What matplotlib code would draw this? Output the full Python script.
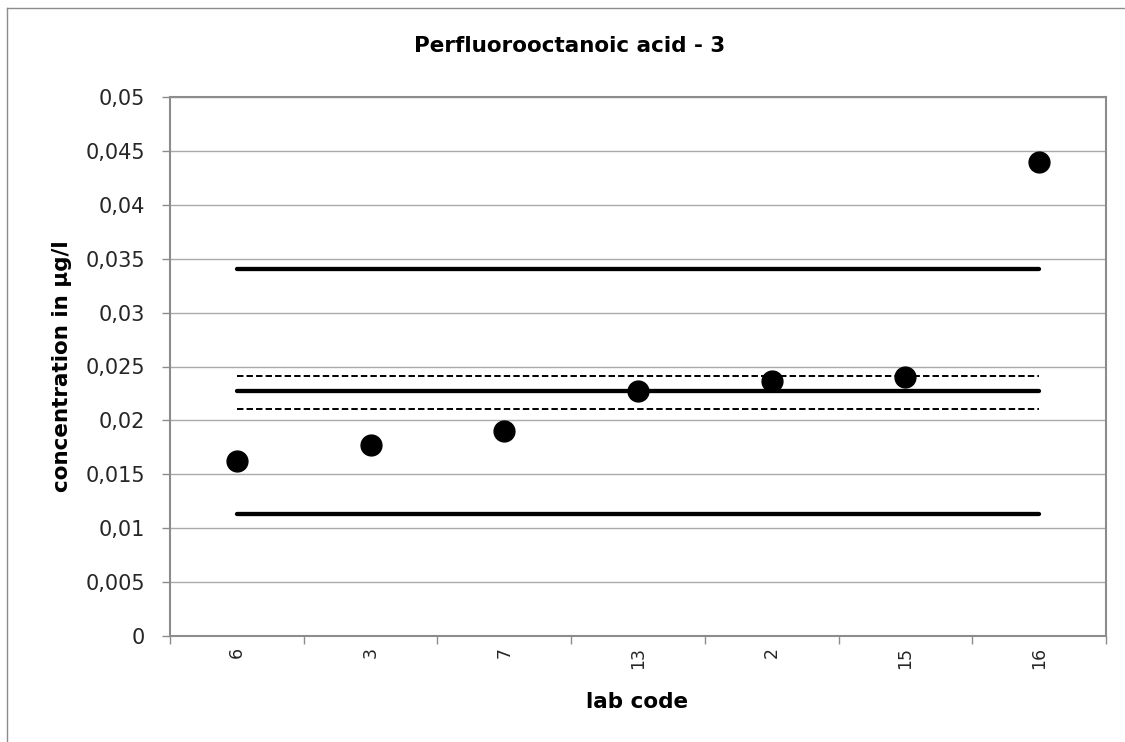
import matplotlib
matplotlib.use("Agg")
import matplotlib.pyplot as plt
from matplotlib.lines import Line2D
import numpy as np

labs = ["6", "3", "7", "13", "2", "15", "16"]
values = [0.0162, 0.0177, 0.0190, 0.0227, 0.0237, 0.0240, 0.0440]
assigned = 0.0227
limit_low = 0.0113
limit_high = 0.0340
unc_low = 0.0211
unc_high = 0.0241
yticks = [0, 0.005, 0.01, 0.015, 0.02, 0.025, 0.03, 0.035, 0.04, 0.045, 0.05]

plt.rcParams['font.family'] = ['DejaVu Sans']

W, H = 1125, 742
fig = plt.figure(figsize=(W / 100, H / 100), dpi=100)
fig.patch.set_facecolor('white')
# outer chart border (only top and left edges are visible in the crop)
bx, by = 6.5 / W, 1 - 7.5 / H
fig.add_artist(Line2D([bx, bx], [0, by], transform=fig.transFigure, color='#8c8c8c', linewidth=1.0))
fig.add_artist(Line2D([bx, 1], [by, by], transform=fig.transFigure, color='#8c8c8c', linewidth=1.0))

left, right, top, bottom = 170, 1106, 97, 636
ax = fig.add_axes([left / W, 1 - bottom / H, (right - left) / W, (bottom - top) / H])

x = np.arange(len(labs))
ax.set_xlim(-0.5, len(labs) - 0.5)
ax.set_ylim(0, 0.05)

ax.set_yticks(yticks)
ax.set_yticklabels([("%g" % v).replace(".", ",") for v in yticks], fontsize=15, color='#262626')
ax.yaxis.grid(True, color='#aaaaaa', linewidth=1.0)
ax.set_axisbelow(True)

ax.set_xticks(x)
ax.set_xticklabels(labs, rotation=90, fontsize=12.5, color='#262626', va='top')
ax.set_xticks(np.arange(-0.5, len(labs)), minor=True)
ax.tick_params(axis='x', which='major', length=0, pad=8)
ax.tick_params(axis='x', which='minor', length=6, width=1, color='#8c8c8c')
ax.tick_params(axis='y', length=6, width=1, color='#8c8c8c', pad=12)

for s in ax.spines.values():
    s.set_color('#8c8c8c')
    s.set_linewidth(1.5)

ax.hlines([limit_high, assigned, limit_low], x[0], x[-1], colors='black',
          linewidth=3.1, capstyle='round', zorder=3)
ax.hlines([unc_high, unc_low], x[0], x[-1], colors='black', linewidth=1.4,
          linestyles=(0, (3.3, 1.6)), zorder=3)

ax.plot(x, values, 'o', color='black', markersize=15, zorder=4, linestyle='none')

fig.text(570 / W, 1 - 52 / H, "Perfluorooctanoic acid - 3",
         ha='center', va='baseline', fontsize=15.5, fontweight='bold')
fig.text(637 / W, 1 - 708 / H, "lab code",
         ha='center', va='baseline', fontsize=15.5, fontweight='bold')
fig.text(62 / W, 1 - 366 / H, "concentration in µg/l", rotation=90,
         ha='center', va='center', fontsize=15.5, fontweight='bold')

fig.savefig("out.png", dpi=100, facecolor='white')
